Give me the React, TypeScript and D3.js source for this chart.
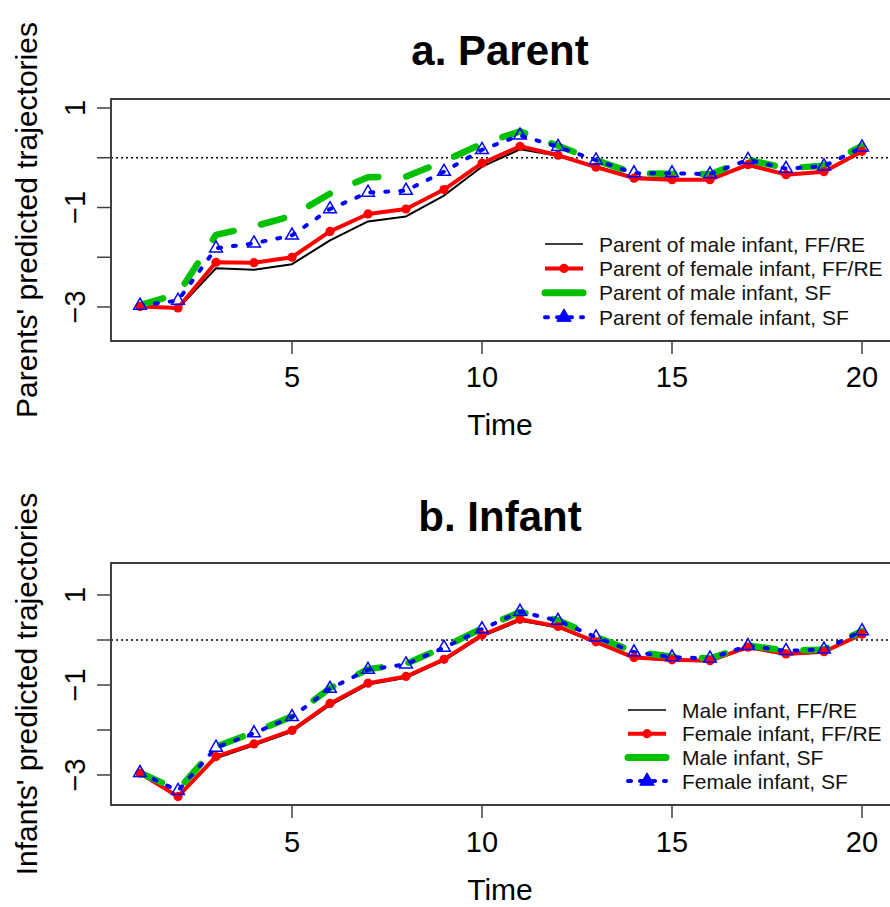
import React from "react";
import * as d3 from "d3";

// ---------- data ----------
const times = d3.range(1, 21);
const xTicks = [5, 10, 15, 20];
const yTicks = [-3, -2, -1, 0, 1];
const yTickLabels = [-3, -1, 1];

const parentMaleFF = [-2.99, -3.03, -2.22, -2.25, -2.14, -1.66, -1.28, -1.18, -0.76, -0.18, 0.17, 0.04, -0.17, -0.39, -0.42, -0.43, -0.16, -0.33, -0.29, 0.11];
const parentFemaleFF = [-2.99, -3.02, -2.1, -2.11, -2.0, -1.48, -1.13, -1.03, -0.64, -0.11, 0.23, 0.05, -0.19, -0.41, -0.44, -0.44, -0.14, -0.34, -0.28, 0.13];
const parentMaleSF = [-2.96, -2.74, -1.55, -1.38, -1.17, -0.72, -0.39, -0.38, -0.07, 0.28, 0.53, 0.24, -0.05, -0.31, -0.32, -0.33, -0.04, -0.21, -0.16, 0.24];
const parentFemaleSF = [-2.97, -2.87, -1.82, -1.72, -1.56, -1.03, -0.7, -0.66, -0.28, 0.16, 0.45, 0.22, -0.05, -0.31, -0.31, -0.33, -0.04, -0.22, -0.17, 0.21];

const infantMaleFF = [-2.97, -3.47, -2.63, -2.34, -2.04, -1.45, -0.99, -0.84, -0.46, 0.08, 0.43, 0.28, -0.06, -0.4, -0.45, -0.46, -0.17, -0.32, -0.27, 0.12];
const infantFemaleFF = [-2.96, -3.48, -2.59, -2.31, -2.01, -1.41, -0.96, -0.81, -0.43, 0.11, 0.46, 0.3, -0.04, -0.39, -0.44, -0.46, -0.16, -0.31, -0.26, 0.13];
const infantMaleSF = [-2.95, -3.33, -2.37, -2.05, -1.7, -1.07, -0.65, -0.53, -0.16, 0.26, 0.62, 0.44, 0.07, -0.26, -0.37, -0.41, -0.12, -0.24, -0.21, 0.2];
const infantFemaleSF = [-2.95, -3.35, -2.39, -2.07, -1.71, -1.08, -0.66, -0.54, -0.17, 0.24, 0.63, 0.43, 0.06, -0.27, -0.38, -0.41, -0.13, -0.24, -0.21, 0.2];

const parentLegend = ["Parent of male infant, FF/RE", "Parent of female infant, FF/RE", "Parent of male infant, SF", "Parent of female infant, SF"];
const infantLegend = ["Male infant, FF/RE", "Female infant, FF/RE", "Male infant, SF", "Female infant, SF"];

// ---------- styles ----------
const FONT = "'Liberation Sans', Arial, Helvetica, sans-serif";
const BLACK = "#000000";
const RED = "#ff0000";
const GREEN = "#00c000";
const BLUE = "#0000ff";

type Geo = {
  top: number; bottom: number; y1: number; ym3: number;
  titleY: number; tickLabelY: number; timeY: number;
  legendX: number; legendY0: number; legendDy: number;
};

const LEFT = 111;
const RIGHT = 893;
const xScale = d3.scaleLinear().domain([1, 20]).range([140, 862]);

function Panel(props: { title: string; ylabel: string; series: number[][]; labels: string[]; g: Geo }) {
  const { title, ylabel, series, labels, g } = props;
  const y = d3.scaleLinear().domain([-3, 1]).range([g.ym3, g.y1]);
  const line = d3.line<number>().x((_, i) => xScale(times[i])).y((d) => y(d));
  const tri = d3.symbol(d3.symbolTriangle, 70)();
  const triLeg = d3.symbol(d3.symbolTriangle, 90)();
  const cy = (g.top + g.bottom) / 2;
  const styles = [
    { stroke: BLACK, w: 2, dash: undefined as string | undefined, cap: "butt" },
    { stroke: RED, w: 4, dash: undefined as string | undefined, cap: "butt" },
    { stroke: GREEN, w: 6.5, dash: "24 28", cap: "round" },
    { stroke: BLUE, w: 4, dash: "3 12", cap: "round" },
  ];
  return (
    <g>
      <text x={500} y={g.titleY} textAnchor="middle" fontFamily={FONT} fontWeight="bold" fontSize={42}>{title}</text>
      {/* zero reference */}
      <line x1={LEFT} x2={RIGHT} y1={y(0)} y2={y(0)} stroke="#000" strokeWidth={1.3} strokeDasharray="2 3" />
      {/* series lines */}
      {series.map((s, k) => (
        <path key={k} d={line(s) || ""} fill="none" stroke={styles[k].stroke} strokeWidth={styles[k].w}
          strokeDasharray={styles[k].dash} strokeLinecap={styles[k].cap as any} strokeLinejoin="round" />
      ))}
      {/* markers */}
      {series[1].map((v, i) => (
        <circle key={"c" + i} cx={xScale(times[i])} cy={y(v)} r={4.6} fill={RED} />
      ))}
      {series[3].map((v, i) => (
        <path key={"t" + i} d={tri || ""} transform={`translate(${xScale(times[i])},${y(v)})`} fill="#ffffff" fillOpacity={0} stroke={BLUE} strokeWidth={1.5} />
      ))}
      {/* box */}
      <rect x={LEFT} y={g.top} width={RIGHT - LEFT} height={g.bottom - g.top} fill="none" stroke="#404040" strokeWidth={2} />
      {/* x axis */}
      {xTicks.map((t) => (
        <g key={"x" + t}>
          <line x1={xScale(t)} x2={xScale(t)} y1={g.bottom} y2={g.bottom + 13} stroke="#404040" strokeWidth={1.5} />
          <text x={xScale(t)} y={g.tickLabelY} textAnchor="middle" fontFamily={FONT} fontSize={29}>{t}</text>
        </g>
      ))}
      <text x={500} y={g.timeY} textAnchor="middle" fontFamily={FONT} fontSize={30}>Time</text>
      {/* y axis */}
      {yTicks.map((t) => (
        <line key={"y" + t} x1={LEFT - 14} x2={LEFT} y1={y(t)} y2={y(t)} stroke="#404040" strokeWidth={1.5} />
      ))}
      {yTickLabels.map((t) => (
        <text key={"yl" + t} transform={`translate(85,${y(t)}) rotate(-90)`} textAnchor="middle" fontFamily={FONT} fontSize={29}>
          {t < 0 ? "\u2212" + Math.abs(t) : String(t)}
        </text>
      ))}
      <text transform={`translate(37,${cy}) rotate(-90)`} textAnchor="middle" fontFamily={FONT} fontSize={30}>{ylabel}</text>
      {/* legend */}
      {labels.map((lab, k) => {
        const ly = g.legendY0 + k * g.legendDy;
        const x0 = g.legendX;
        const x1 = g.legendX + 38;
        const st = styles[k];
        return (
          <g key={"lg" + k}>
            <line x1={x0} x2={x1} y1={ly} y2={ly} stroke={st.stroke} strokeWidth={k === 0 ? 1.5 : k === 2 ? 7 : st.w}
              strokeDasharray={k === 3 ? "3 9" : undefined} strokeLinecap={k === 2 || k === 3 ? "round" : "butt"} />
            {k === 1 && <circle cx={(x0 + x1) / 2} cy={ly} r={4.6} fill={RED} />}
            {k === 3 && <path d={triLeg || ""} transform={`translate(${(x0 + x1) / 2},${ly})`} fill={BLUE} stroke={BLUE} strokeWidth={1} />}
            <text x={g.legendX + 54} y={ly + 7.5} fontFamily={FONT} fontSize={21} fill="#111">{lab}</text>
          </g>
        );
      })}
    </g>
  );
}

const topGeo: Geo = { top: 99, bottom: 341, y1: 108, ym3: 307, titleY: 65, tickLabelY: 387, timeY: 435, legendX: 545, legendY0: 244, legendDy: 24.4 };
const botGeo: Geo = { top: 563, bottom: 805, y1: 595, ym3: 775, titleY: 531, tickLabelY: 852, timeY: 900, legendX: 628, legendY0: 710, legendDy: 23.7 };

export default function App() {
  return (
    <svg width={890} height={907} style={{ position: "absolute", left: 0, top: 0, background: "#fff" }}>
      <rect x={0} y={0} width={890} height={907} fill="#fff" />
      <Panel title="a. Parent" ylabel="Parents' predicted trajectories" series={[parentMaleFF, parentFemaleFF, parentMaleSF, parentFemaleSF]} labels={parentLegend} g={topGeo} />
      <Panel title="b. Infant" ylabel="Infants' predicted trajectories" series={[infantMaleFF, infantFemaleFF, infantMaleSF, infantFemaleSF]} labels={infantLegend} g={botGeo} />
    </svg>
  );
}
